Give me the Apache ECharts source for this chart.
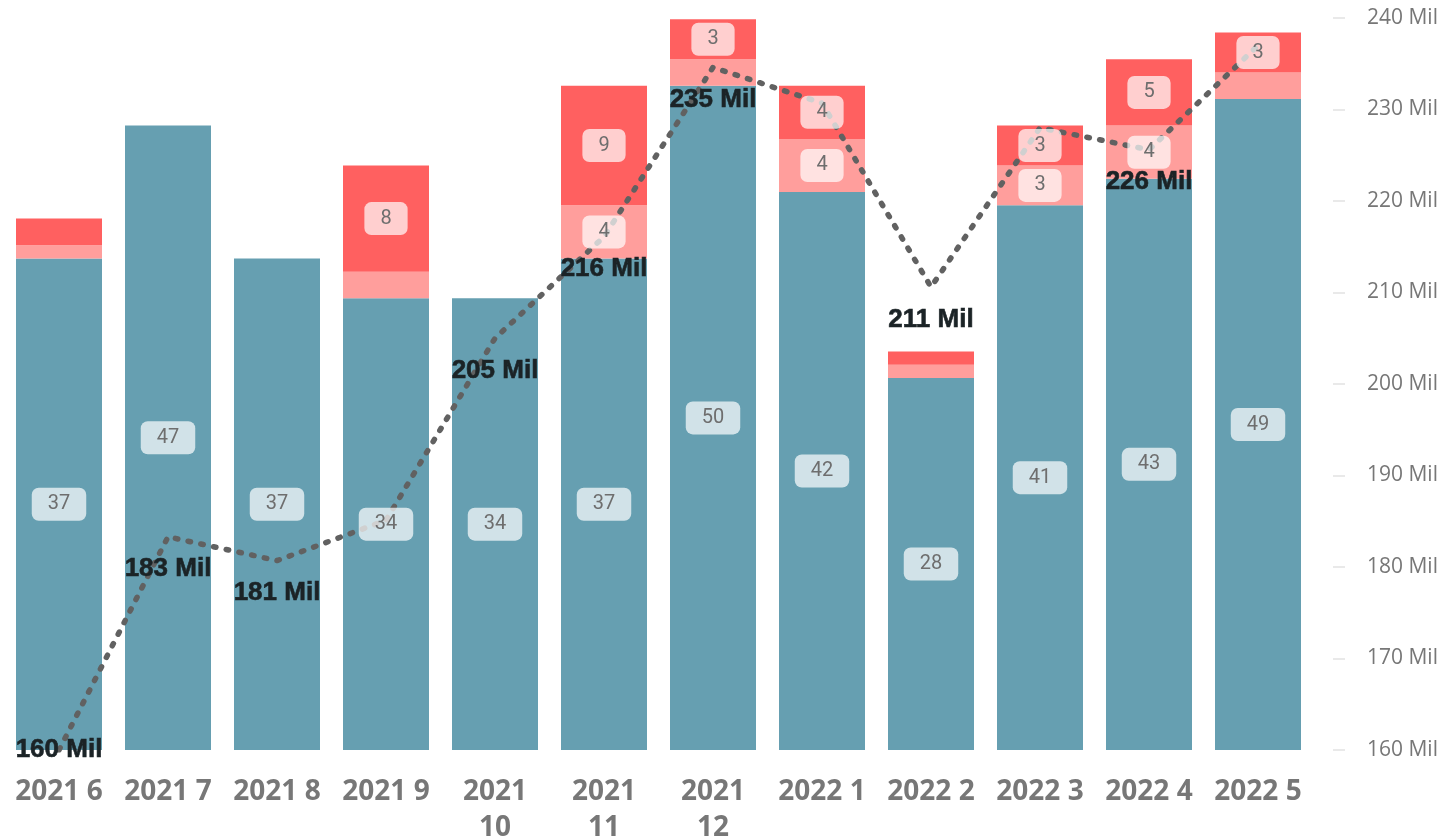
<!DOCTYPE html>
<html>
<head>
<meta charset="utf-8">
<script src="https://cdn.jsdelivr.net/npm/echarts@6/dist/echarts.min.js"></script>
<style>
html,body{margin:0;padding:0;background:#fff;overflow:hidden;}
#chart{width:1440px;height:840px;}
</style>
</head>
<body>
<div id="chart"></div>
<script>
const categories = ['2021 6','2021 7','2021 8','2021 9','2021 10','2021 11','2021 12','2022 1','2022 2','2022 3','2022 4','2022 5'];
const tealValues  = [37, 47, 37, 34, 34, 37, 50, 42, 28, 41, 43, 49];
const lightValues = [1, 0, 0, 2, 0, 4, 2, 4, 1, 3, 4, 2];
const redValues   = [2, 0, 0, 8, 0, 9, 3, 4, 1, 3, 5, 3];
const lineValues  = [160.0, 183.3, 180.7, 185.1, 205.0, 216.1, 234.6, 230.7, 210.6, 228.0, 225.6, 237.0];
const lineLabelShown = [true, true, true, false, true, true, true, false, true, false, true, false];
const rightMin = 160, rightMax = 240, rightStep = 10;
const leftMax = 55.1;

const chart = echarts.init(document.getElementById('chart'));

function barSeries(name, values, color) {
  return {
    name: name, type: 'bar', stack: 'bars', yAxisIndex: 0,
    barWidth: 86, barGap: '-100%', z: 2,
    itemStyle: { color: color },
    emphasis: { disabled: true },
    data: values
  };
}
function labelSeries(name, values) {
  return {
    name: name + ' label', type: 'bar', stack: 'labels', yAxisIndex: 0,
    barWidth: 86, barGap: '-100%', z: 5, silent: true,
    itemStyle: { color: 'rgba(0,0,0,0)' },
    emphasis: { disabled: true },
    label: {
      show: true, position: 'inside',
      fontFamily: 'Roboto', fontSize: 20, lineHeight: 21, color: '#6e6e6e',
      backgroundColor: 'rgba(255,255,255,0.7)', borderRadius: 7, padding: [6, 16, 6, 16],
      formatter: p => String(Math.round(p.value))
    },
    data: values.map(v => ({ value: v, label: { show: v >= 3 } }))
  };
}

const lineData = lineValues.map((v, i) => {
  const item = { value: v, label: { show: lineLabelShown[i] } };
  if (i === 0) { item.label.position = 'inside'; item.label.offset = [0, -9]; }
  return item;
});

chart.setOption({
  animation: false,
  backgroundColor: '#ffffff',
  grid: { left: 4.5, right: 127.5, top: 18, bottom: 90, containLabel: false, outerBoundsMode: 'none' },
  xAxis: {
    type: 'category', data: categories,
    axisLine: { show: false }, axisTick: { show: false },
    axisLabel: {
      interval: 0, margin: 24,
      fontFamily: 'Open Sans', fontWeight: 'bold', fontSize: 28, lineHeight: 36, color: '#777777',
      formatter: v => (v.split(' ')[1].length > 1 ? v.replace(' ', '\n') : v)
    }
  },
  yAxis: [
    { type: 'value', min: 0, max: leftMax, show: false, splitLine: { show: false } },
    {
      type: 'value', position: 'right', min: rightMin, max: rightMax, interval: rightStep, offset: 20.5,
      axisLine: { show: false },
      axisTick: { show: true, length: 12, inside: false, lineStyle: { color: '#e2e2e2', width: 1.5 } },
      splitLine: { show: false },
      axisLabel: {
        margin: 34, fontFamily: 'Open Sans', fontSize: 21, color: '#777777',
        formatter: '{value} Mil'
      }
    }
  ],
  series: [
    barSeries('A', tealValues, '#669FB1'),
    barSeries('B', lightValues, '#FF9E9C'),
    barSeries('C', redValues, '#FF6060'),
    {
      name: 'Line', type: 'line', yAxisIndex: 1, z: 3,
      symbol: 'circle', symbolSize: 1, showSymbol: true,
      itemStyle: { color: 'rgba(0,0,0,0)' },
      smooth: false,
      lineStyle: { color: '#616161', width: 5.5, type: [2.5, 10.5], cap: 'round' },
      emphasis: { disabled: true },
      label: {
        show: true, position: 'bottom', distance: 19,
        fontFamily: 'Liberation Sans', fontWeight: 'bold', fontSize: 26, color: '#1b2326',
        textBorderColor: '#1b2326', textBorderWidth: 0.6,
        formatter: p => Math.round(p.value) + ' Mil'
      },
      labelLayout: { hideOverlap: false },
      data: lineData
    },
    labelSeries('A', tealValues),
    labelSeries('B', lightValues),
    labelSeries('C', redValues)
  ]
});
</script>
</body>
</html>
